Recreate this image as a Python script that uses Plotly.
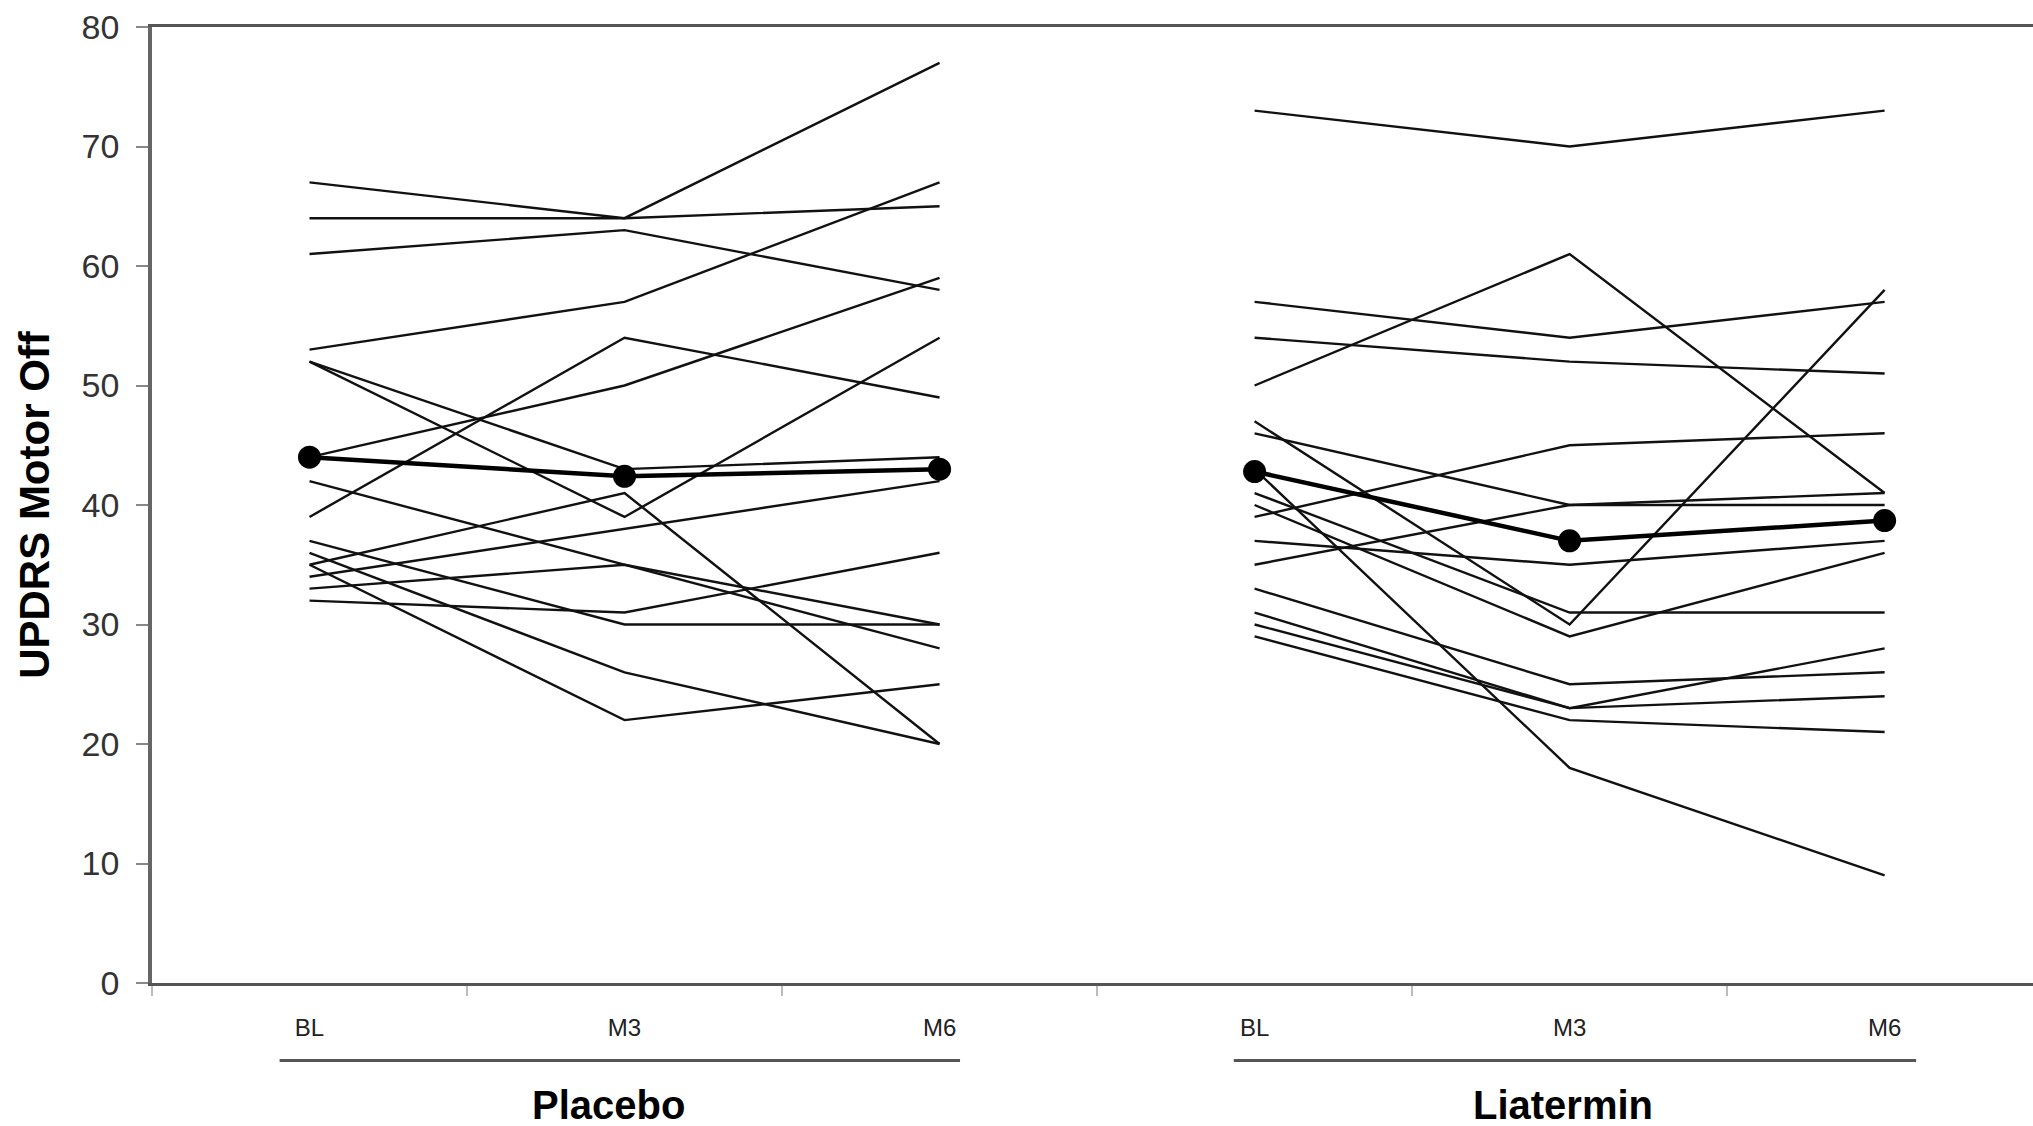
import plotly.graph_objects as go

# ---------------- data ----------------
visits = ["BL", "M3", "M6"]
groups = ["Placebo", "Liatermin"]
y_ticks = [0, 10, 20, 30, 40, 50, 60, 70, 80]

placebo_bl = [67, 64, 61, 53, 52, 52, 44, 39, 42, 35, 34, 33, 32, 35, 36, 37]
placebo_m3 = [64, 64, 63, 57, 39, 43, 50, 54, 35, 41, 38, 35, 31, 22, 26, 30]
placebo_m6 = [77, 65, 58, 67, 54, 44, 59, 49, 28, 20, 42, 30, 36, 25, 20, 30]

liatermin_bl = [73, 50, 57, 54, 39, 46, 35, 37, 43, 47, 41, 40, 33, 31, 30, 29]
liatermin_m3 = [70, 61, 54, 52, 45, 40, 40, 35, 18, 30, 31, 29, 25, 23, 23, 22]
liatermin_m6 = [73, 41, 57, 51, 46, 40, 41, 37, 9, 58, 31, 36, 26, 28, 24, 21]

placebo_mean = [44.0, 42.4, 43.0]
liatermin_mean = [42.8, 37.0, 38.7]

FONT = "Liberation Sans, Arial, Helvetica, sans-serif"

fig = go.Figure()

group_data = [
    (placebo_bl, placebo_m3, placebo_m6, placebo_mean),
    (liatermin_bl, liatermin_m3, liatermin_m6, liatermin_mean),
]

x_all = []
tick_text = []
for gi, (bl, m3, m6, mean) in enumerate(group_data):
    xs = [gi * len(visits) + k for k in range(len(visits))]
    x_all += xs
    tick_text += visits
    for a, b, c in zip(bl, m3, m6):
        fig.add_trace(go.Scatter(
            x=xs, y=[a, b, c], mode="lines",
            line=dict(color="#111111", width=2.4),
            hoverinfo="skip", showlegend=False))
    fig.add_trace(go.Scatter(
        x=xs, y=mean, mode="lines+markers",
        line=dict(color="#000000", width=4.5),
        marker=dict(color="#000000", size=23),
        showlegend=False))

boundaries = [x - 0.5 for x in x_all] + [x_all[-1] + 0.5]

# group brackets and labels (small per-group offsets as seen in the original)
bracket_pad = [(-0.095, 0.065), (-0.066, 0.10)]
label_shift = [-0.05, -0.02]
for gi, g in enumerate(groups):
    x0 = gi * len(visits)
    x1 = x0 + len(visits) - 1
    pl, pr = bracket_pad[gi]
    fig.add_shape(type="line", xref="x", yref="paper",
                  x0=x0 + pl, x1=x1 + pr, y0=-0.081, y1=-0.081,
                  line=dict(color="#555555", width=3))
    fig.add_annotation(x=(x0 + x1) / 2 + label_shift[gi], y=-0.128,
                       xref="x", yref="paper",
                       text="<b>%s</b>" % g, showarrow=False,
                       font=dict(family=FONT, size=40, color="#000000"),
                       xanchor="center", yanchor="middle")

fig.update_layout(
    width=2033, height=1126,
    margin=dict(l=152, r=0, t=27, b=143),
    paper_bgcolor="white", plot_bgcolor="white",
    font=dict(family=FONT),
)

fig.update_xaxes(
    range=[-0.5, 5.471],
    tickmode="array", tickvals=x_all, ticktext=tick_text,
    ticks="", ticklabelstandoff=21,
    tickfont=dict(family=FONT, size=24, color="#222222"),
    showgrid=False, zeroline=False,
    showline=True, linecolor="#555555", linewidth=3, mirror=True,
    minor=dict(tickmode="array", tickvals=boundaries, ticks="outside",
               ticklen=10, tickcolor="#bbbbbb", tickwidth=1.5, showgrid=False),
)

fig.update_yaxes(
    range=[0, 80],
    tickmode="array", tickvals=y_ticks,
    ticks="outside", ticklen=12, tickcolor="#888888", tickwidth=1.5,
    ticklabelstandoff=10,
    tickfont=dict(family=FONT, size=34, color="#333333"),
    showgrid=False, zeroline=False,
    showline=True, linecolor="#666666", linewidth=3.5,
    title=dict(text="<b>UPDRS Motor Off</b>", standoff=20,
               font=dict(family=FONT, size=42, color="#000000")),
)

fig.write_html("out.html")
